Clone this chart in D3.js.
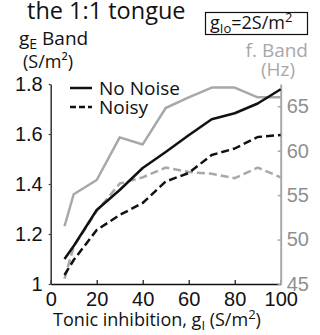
<!DOCTYPE html>
<html>
<head>
<meta charset="utf-8">
<script src="https://cdn.jsdelivr.net/npm/d3@7"></script>
<style>
  html, body { margin: 0; padding: 0; background: #fff; }
  svg { display: block; font-family: "Open Sans", "Noto Sans", sans-serif; }
</style>
</head>
<body>
<svg id="chart" width="320" height="335"></svg>
<script>
// Tonic inhibition levels (S/m^2)
const gI = [6, 10, 20, 30, 40, 50, 60, 70, 80, 90, 100];

// gE band (S/m^2), left axis
const gENoNoise = [1.10, 1.152, 1.296, 1.376, 1.464, 1.528, 1.595, 1.659, 1.683, 1.722, 1.779];
const gENoisy   = [1.036, 1.096, 1.216, 1.276, 1.324, 1.41, 1.444, 1.516, 1.542, 1.588, 1.596];

// frequency band (Hz), right axis
const fNoNoise = [51.5, 55.1, 56.7, 61.5, 60.7, 64.8, 66.0, 67.1, 67.1, 66.0, 66.0];
const fNoisy   = [45.6, 49.2, 53.2, 56.3, 57.0, 58.1, 57.6, 57.4, 56.9, 58.1, 57.0];

const xTicks = [0, 20, 40, 60, 80, 100];
const leftTicks = [1, 1.2, 1.4, 1.6, 1.8];
const rightTicks = [45, 50, 55, 60, 65];

const black = "#111";
const grey = "#a8a8a8";
const greyText = "#8f8f8f";

const svg = d3.select("#chart");

const x = d3.scaleLinear().domain([0, 100]).range([50.7, 280.7]);
const yL = d3.scaleLinear().domain([1, 1.8]).range([284, 84]);
const yR = d3.scaleLinear().domain([45, 67.5]).range([284, 84]);

// axes
const bottom = svg.append("g")
  .attr("transform", `translate(0,${yL(1)})`)
  .call(d3.axisBottom(x).tickValues(xTicks).tickSize(-4).tickSizeOuter(0).tickPadding(8).tickFormat(d3.format("d")));
bottom.select(".domain").attr("stroke", black).attr("stroke-width", 1.5);
bottom.selectAll(".tick line").attr("stroke", black).attr("stroke-width", 1.2);
bottom.selectAll(".tick text").attr("font-size", 20).attr("fill", black).attr("dy", "0.71em");

const left = svg.append("g")
  .attr("transform", `translate(${x(0)},0)`)
  .call(d3.axisLeft(yL).tickValues(leftTicks).tickSize(2).tickSizeOuter(0).tickPadding(6)
    .tickFormat(d => d === 1 ? "1" : d3.format(".1f")(d)));
left.select(".domain").attr("stroke", "#333").attr("stroke-width", 1.5);
left.selectAll(".tick line").attr("stroke", "#334").attr("stroke-width", 1.2);
left.selectAll(".tick text").attr("font-size", 20).attr("fill", black);

const right = svg.append("g")
  .attr("transform", `translate(${x(100)},0)`)
  .call(d3.axisRight(yR).tickValues(rightTicks).tickSize(-3).tickSizeOuter(0).tickPadding(6));
right.select(".domain").attr("stroke", grey).attr("stroke-width", 2);
right.selectAll(".tick line").attr("stroke", grey).attr("stroke-width", 1.5);
right.selectAll(".tick text").attr("font-size", 20).attr("fill", greyText);

// series
function series(vals, yScale, color, dash) {
  const line = d3.line().x((d, i) => x(gI[i])).y(d => yScale(d));
  svg.append("path")
    .attr("d", line(vals))
    .attr("fill", "none")
    .attr("stroke", color)
    .attr("stroke-width", 2.5)
    .attr("stroke-linejoin", "round")
    .attr("stroke-dasharray", dash ? "8,4" : null);
}
series(fNoNoise, yR, grey, false);
series(fNoisy, yR, grey, true);
series(gENoNoise, yL, black, false);
series(gENoisy, yL, black, true);

// legend
const legend = [{ label: "No Noise", dash: false }, { label: "Noisy", dash: true }];
legend.forEach((d, i) => {
  const yy = 88 + i * 19;
  svg.append("line").attr("x1", 70).attr("x2", 92).attr("y1", yy).attr("y2", yy)
    .attr("stroke", black).attr("stroke-width", 2.5).attr("stroke-dasharray", d.dash ? "6,3" : null);
  svg.append("text").attr("x", 99).attr("y", yy + 7).attr("font-size", 19).attr("fill", black).text(d.label);
});

// title
svg.append("text").attr("x", 27).attr("y", 19).attr("font-size", 23.5).attr("fill", black).text("the 1:1 tongue");

// parameter box
svg.append("rect").attr("x", 205.5).attr("y", 12.5).attr("width", 102).attr("height", 22)
  .attr("fill", "none").attr("stroke", black).attr("stroke-width", 1.2);
const box = svg.append("text").attr("x", 210).attr("y", 29).attr("font-size", 18).attr("fill", black);
box.append("tspan").text("g");
box.append("tspan").attr("font-size", 13).attr("dy", 4).text("Io");
box.append("tspan").attr("dy", -4).text("=2S/m");
box.append("tspan").attr("font-size", 13).attr("dy", -7).text("2");

// left axis title
const lt = svg.append("text").attr("x", 19).attr("y", 45).attr("font-size", 19).attr("fill", black);
lt.append("tspan").text("g");
lt.append("tspan").attr("font-size", 14).attr("dy", 4).text("E");
lt.append("tspan").attr("dy", -4).text(" Band");
svg.append("text").attr("x", 23).attr("y", 68).attr("font-size", 18).attr("fill", black).text("(S/m²)");

// right axis title
svg.append("text").attr("x", 308).attr("y", 57).attr("text-anchor", "end").attr("font-size", 19).attr("fill", grey).text("f. Band");
svg.append("text").attr("x", 295).attr("y", 76).attr("text-anchor", "end").attr("font-size", 19).attr("fill", grey).text("(Hz)");

// x axis title
const xt = svg.append("text").attr("x", 157).attr("y", 326).attr("text-anchor", "middle").attr("font-size", 18).attr("fill", black);
xt.append("tspan").text("Tonic inhibition, g");
xt.append("tspan").attr("font-size", 13).attr("dy", 4).text("I");
xt.append("tspan").attr("dy", -4).text(" (S/m");
xt.append("tspan").attr("font-size", 13).attr("dy", -7).text("2");
xt.append("tspan").attr("dy", 7).text(")");
</script>
</body>
</html>
